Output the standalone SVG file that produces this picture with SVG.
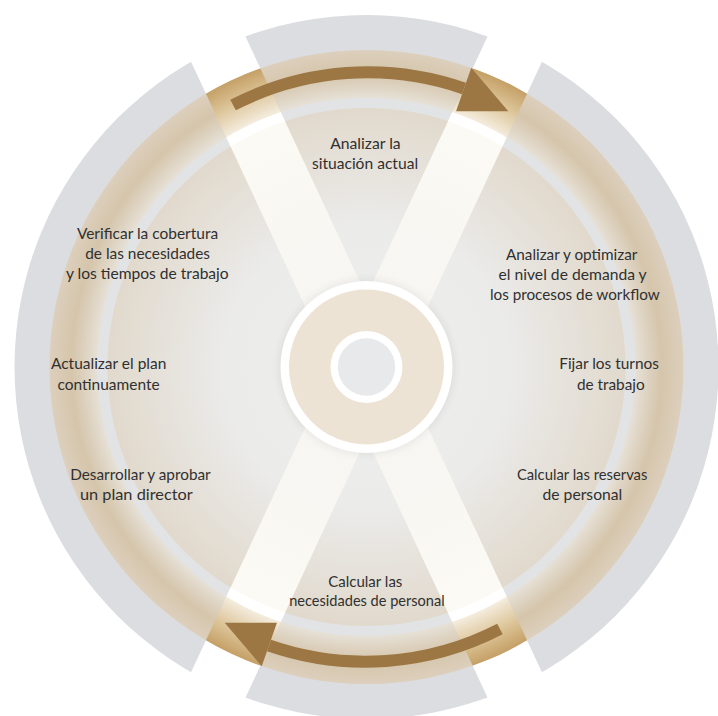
<svg xmlns="http://www.w3.org/2000/svg" width="718" height="716" viewBox="0 0 718 716">
  <style>
    .lbl { font-family: Lato, "Open Sans", "Liberation Sans", sans-serif; font-size: 16px; fill: #303030; }
    .arrow { fill: none; stroke: #9d7743; stroke-width: 12; }
    .head { fill: #9d7743; }
  </style>
  <defs>
    <radialGradient id="gSector" gradientUnits="userSpaceOnUse" cx="366.5" cy="367" r="317">
      <stop offset="0" stop-color="#efefef"/>
      <stop offset="0.45" stop-color="#ebebea"/>
      <stop offset="0.817" stop-color="#e1d9cc"/>
      <stop offset="0.849" stop-color="#e6e0d6"/>
      <stop offset="0.93" stop-color="#d5c5ab"/>
      <stop offset="1" stop-color="#dccfbc"/>
    </radialGradient>
    <radialGradient id="gX" gradientUnits="userSpaceOnUse" cx="366.5" cy="367" r="317">
      <stop offset="0" stop-color="#f6f5f2"/>
      <stop offset="0.5" stop-color="#f9f7f2"/>
      <stop offset="0.817" stop-color="#fcfaf4"/>
      <stop offset="0.849" stop-color="#f4ecdd"/>
      <stop offset="0.93" stop-color="#dcc498"/>
      <stop offset="1" stop-color="#c5a066"/>
    </radialGradient>
    <filter id="soft" x="-20%" y="-20%" width="140%" height="140%">
      <feGaussianBlur stdDeviation="4"/>
    </filter>
    <clipPath id="xClip">
      <rect x="336.5" y="-50" width="60" height="834" transform="rotate(25 366.5 367)"/>
      <rect x="336.5" y="-50" width="60" height="834" transform="rotate(-25 366.5 367)"/>
    </clipPath>
    <mask id="sectorMask" maskUnits="userSpaceOnUse" x="0" y="0" width="718" height="716">
      <rect x="0" y="0" width="718" height="716" fill="#fff"/>
      <rect x="336.5" y="-50" width="60" height="834" fill="#000" transform="rotate(25 366.5 367)"/>
      <rect x="336.5" y="-50" width="60" height="834" fill="#000" transform="rotate(-25 366.5 367)"/>
    </mask>
  </defs>

  <g id="background">
    <circle cx="366.5" cy="367" r="352" fill="#dcdde0" mask="url(#sectorMask)"/>
    <circle cx="366.5" cy="367" r="317" fill="url(#gSector)"/>
    <circle cx="366.5" cy="367" r="264" fill="none" stroke="#e2e3e5" stroke-width="10"/>
    <g clip-path="url(#xClip)">
      <circle cx="366.5" cy="367" r="317" fill="url(#gX)"/>
      <circle cx="366.5" cy="367" r="264" fill="none" stroke="#ffffff" stroke-width="10"/>
    </g>
  </g>

  <g id="hub">
    <circle cx="366.5" cy="367" r="88" fill="#000000" opacity="0.06" filter="url(#soft)"/>
    <circle cx="366.5" cy="367" r="86" fill="#ffffff"/>
    <circle cx="366.5" cy="367" r="77.5" fill="#ede3d4"/>
    <circle cx="366.5" cy="367" r="36" fill="#ffffff"/>
    <circle cx="366.5" cy="367" r="28.7" fill="#e7e9ea"/>
  </g>

  <g id="connectors">
    <g id="arrow-top">
      <path class="arrow" d="M233.03,105.04 A294,294 0 0 1 464,88.5"/>
      <polygon class="head" points="471.27,67.81 508.31,111.17 456.07,111.23"/>
    </g>
    <g id="arrow-bottom" transform="rotate(180 366.5 367)">
      <path class="arrow" d="M233.03,105.04 A294,294 0 0 1 464,88.5"/>
      <polygon class="head" points="471.27,67.81 508.31,111.17 456.07,111.23"/>
    </g>
  </g>

  <g id="node-analizar-situacion">
    <text class="lbl" x="330.2" y="149" textLength="70.5" lengthAdjust="spacingAndGlyphs">Analizar la</text>
    <text class="lbl" x="311.9" y="169" textLength="106.2" lengthAdjust="spacingAndGlyphs">situación actual</text>
  </g>
  <g id="node-verificar">
    <text class="lbl" x="76.9" y="239" textLength="141.2" lengthAdjust="spacingAndGlyphs">Verificar la cobertura</text>
    <text class="lbl" x="85.2" y="259" textLength="124.8" lengthAdjust="spacingAndGlyphs">de las necesidades</text>
    <text class="lbl" x="65.9" y="279" textLength="162.8" lengthAdjust="spacingAndGlyphs">y los tiempos de trabajo</text>
  </g>
  <g id="node-optimizar">
    <text class="lbl" x="505.9" y="260" textLength="131.5" lengthAdjust="spacingAndGlyphs">Analizar y optimizar</text>
    <text class="lbl" x="498.5" y="280" textLength="148.2" lengthAdjust="spacingAndGlyphs">el nivel de demanda y</text>
    <text class="lbl" x="489.9" y="300" textLength="169.8" lengthAdjust="spacingAndGlyphs">los procesos de workflow</text>
  </g>
  <g id="node-actualizar">
    <text class="lbl" x="50.9" y="369" textLength="115.5" lengthAdjust="spacingAndGlyphs">Actualizar el plan</text>
    <text class="lbl" x="57.5" y="390" textLength="102.2" lengthAdjust="spacingAndGlyphs">continuamente</text>
  </g>
  <g id="node-turnos">
    <text class="lbl" x="559.2" y="369" textLength="99.8" lengthAdjust="spacingAndGlyphs">Fijar los turnos</text>
    <text class="lbl" x="576.9" y="390" textLength="67.8" lengthAdjust="spacingAndGlyphs">de trabajo</text>
  </g>
  <g id="node-reservas">
    <text class="lbl" x="516.9" y="479.5" textLength="130.5" lengthAdjust="spacingAndGlyphs">Calcular las reservas</text>
    <text class="lbl" x="542.5" y="500" textLength="79.8" lengthAdjust="spacingAndGlyphs">de personal</text>
  </g>
  <g id="node-plan-director">
    <text class="lbl" x="70.2" y="479.5" textLength="140.5" lengthAdjust="spacingAndGlyphs">Desarrollar y aprobar</text>
    <text class="lbl" x="79.9" y="499.5" textLength="112.8" lengthAdjust="spacingAndGlyphs">un plan director</text>
  </g>
  <g id="node-necesidades">
    <text class="lbl" x="328.2" y="586.5" textLength="74.2" lengthAdjust="spacingAndGlyphs">Calcular las</text>
    <text class="lbl" x="289.2" y="606" textLength="155.5" lengthAdjust="spacingAndGlyphs">necesidades de personal</text>
  </g>
</svg>
